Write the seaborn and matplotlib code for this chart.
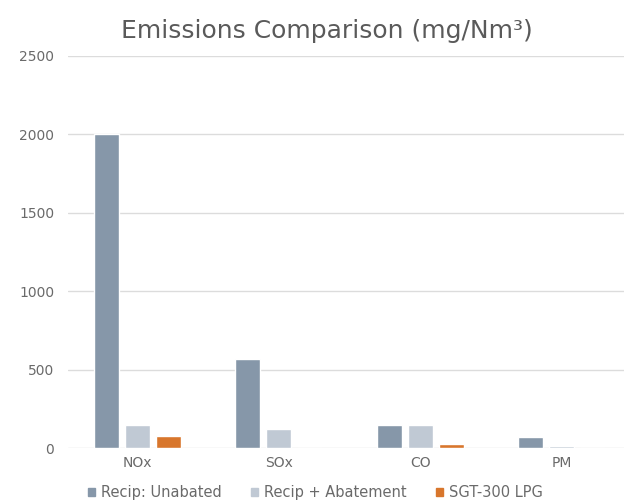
import matplotlib
matplotlib.use("Agg")
import matplotlib.pyplot as plt
import seaborn as sns
import pandas as pd

# Emission values per pollutant (mg/Nm3)
pollutants = ["NOx", "SOx", "CO", "PM"]
series_names = ["Recip: Unabated", "Recip + Abatement", "SGT-300 LPG"]
recip_unabated = [2000, 570, 150, 70]
recip_abatement = [150, 120, 150, 15]
sgt300_lpg = [75, 0, 25, 0]
y_ticks = [0, 500, 1000, 1500, 2000, 2500]

colors = ["#8697a9", "#c0c9d4", "#d8762c"]

df = pd.DataFrame({
    "Pollutant": pollutants * 3,
    "Series": [s for s in series_names for _ in pollutants],
    "Value": recip_unabated + recip_abatement + sgt300_lpg,
})

sns.set_theme(style="white")
plt.rcParams["font.family"] = ["DejaVu Sans"]

fig = plt.figure(figsize=(6.24, 5.04), dpi=100)
ax = fig.add_axes([0.109, 0.111, 0.891, 0.778])

sns.barplot(data=df, x="Pollutant", y="Value", hue="Series",
            hue_order=series_names, palette=colors, width=0.66, gap=0.2,
            ax=ax, legend=False, saturation=1)

ax.set_ylim(0, 2500)
ax.set_yticks(y_ticks)
ax.set_yticklabels([str(v) for v in y_ticks])
ax.set_xlim(-0.49, 3.44)
ax.yaxis.grid(True, color="#dcdcdc", linewidth=1)
ax.set_axisbelow(True)
for sp in ax.spines.values():
    sp.set_visible(False)
ax.tick_params(axis="both", length=0, labelsize=10, colors="#6a6a6a")
ax.tick_params(axis="y", pad=10)
ax.tick_params(axis="x", pad=6)
ax.set_xlabel("")
ax.set_ylabel("")

fig.suptitle("Emissions Comparison (mg/Nm\u00b3)", x=0.524, y=0.962,
             fontsize=18, color="#5a5a5a")

handles = [plt.Rectangle((0, 0), 1, 1, color=c) for c in colors]
fig.legend(handles, series_names, loc="center", ncol=3,
           bbox_to_anchor=(0.506, 0.022), frameon=False, fontsize=10.5,
           labelcolor="#6a6a6a", handlelength=0.45, handleheight=0.45,
           handletextpad=0.45, columnspacing=2.0)

fig.savefig("out.png", dpi=100, facecolor="white")
